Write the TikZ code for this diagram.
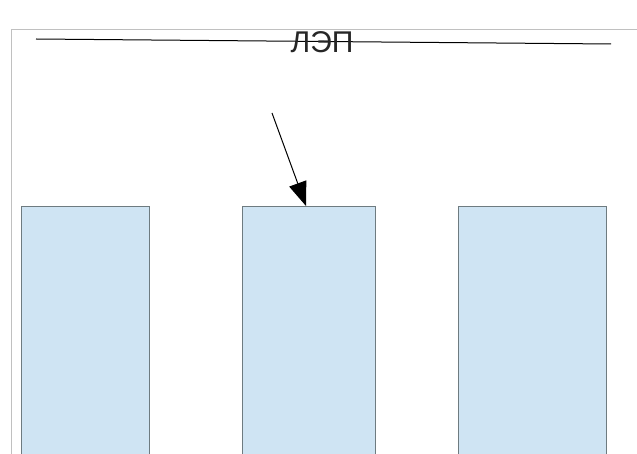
\documentclass[tikz,border=0pt]{standalone}
\usepackage{fontspec}
\setmainfont{Liberation Sans}
\usetikzlibrary{arrows.meta}
\definecolor{boxfill}{HTML}{CFE4F3}
\definecolor{boxline}{HTML}{6E7B80}
\definecolor{framegray}{HTML}{C0C0C0}
\begin{document}
\begin{tikzpicture}[x=1pt,y=-1pt,
  pillar/.style={draw=boxline, fill=boxfill, line width=0.9pt, inner sep=0pt, anchor=north west},
  lbl/.style={font=\fontsize{30}{30}\selectfont, inner sep=0pt, text=black!85}]
\useasboundingbox (0,0) rectangle (637,454);
\clip (0,0) rectangle (637,454);
\fill[white] (0,0) rectangle (637,454);
% frame
\draw[framegray, line width=1pt] (11.5,470) -- (11.5,29.5) -- (650,29.5);
% pillars
\node[pillar, minimum width=128pt, minimum height=260pt] (r1) at (21,206) {};
\node[pillar, minimum width=133pt, minimum height=260pt] (r2) at (242,206) {};
\node[pillar, minimum width=148pt, minimum height=260pt] (r3) at (458,206) {};
% line
\coordinate (l1) at (36,39);
\coordinate (l2) at (611,44);
\draw[black, line width=1pt] (l1) -- (l2);
\node[lbl] (t) at (322,42) {ЛЭП};
% arrow
\coordinate (s) at (272,113);
\coordinate (e) at (306,206);
\draw[line width=1pt, -{Triangle[length=24pt,width=18pt]}] (s) -- (e);
\end{tikzpicture}
\end{document}
